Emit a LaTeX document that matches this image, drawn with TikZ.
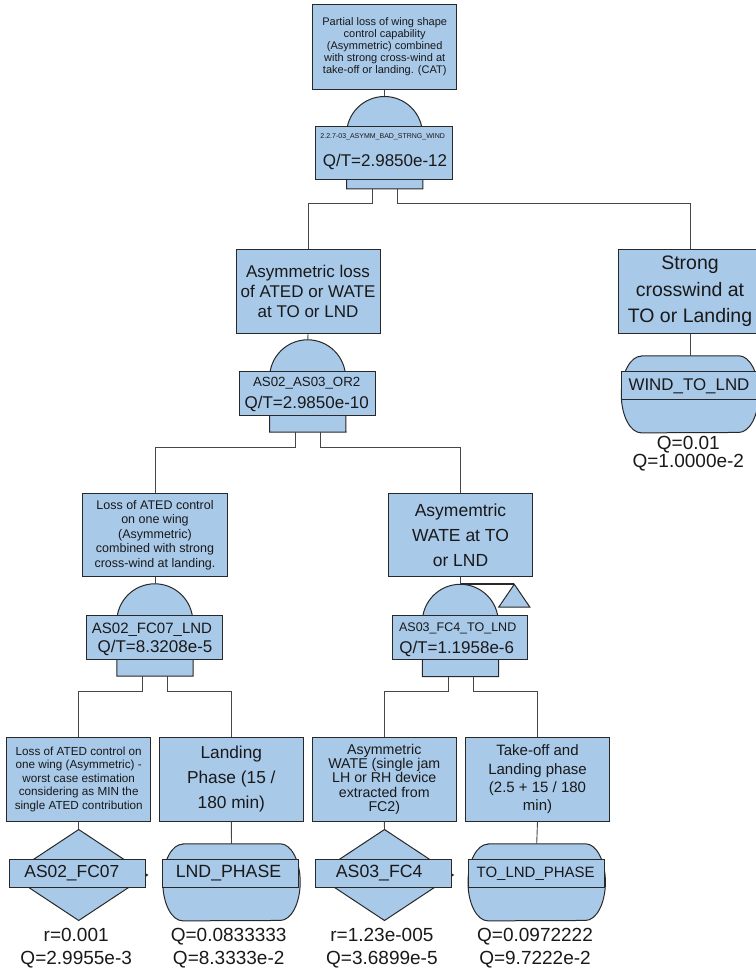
\documentclass[tikz,border=0pt]{standalone}
\usepackage{fontspec}
\setmainfont{Liberation Sans}
\usetikzlibrary{shapes.geometric}

\definecolor{fbox}{RGB}{169,201,233}
\definecolor{edge}{RGB}{40,40,40}
\definecolor{wirec}{RGB}{70,70,70}
\definecolor{ink}{RGB}{25,25,25}

\newcommand\ftfont[2]{\fontsize{#1}{#2}\selectfont}

% gate body: round dome over a rectangular base
\newcommand\ftgate[1]{%
  \draw[shapefill] (#1.south west) -- ([yshift=-38pt]#1.north west)
    arc[start angle=180, end angle=0, radius=38pt] -- (#1.south east) -- cycle;}
% house-like event body with elliptic ends
\newcommand\ftround[1]{%
  \draw[shapefill] ([xshift=20pt]#1.north west) -- ([xshift=-20pt]#1.north east)
    arc[start angle=90, end angle=-90, x radius=20pt, y radius=38.35pt]
    -- ([xshift=20pt]#1.south west)
    arc[start angle=270, end angle=90, x radius=20pt, y radius=38.35pt] -- cycle;}

\begin{document}
\begin{tikzpicture}[x=1pt,y=-1pt,
  shapefill/.style={draw=edge, fill=fbox, line width=1pt},
  evbox/.style={shapefill, minimum width=144pt, minimum height=84pt,
    inner sep=0pt, align=center, text=ink},
  idbox/.style={shapefill, minimum width=136pt, minimum height=28.4pt,
    inner sep=0pt, text=ink},
  gatelbl/.style={shapefill, minimum width=136pt, minimum height=43.6pt, inner sep=0pt},
  gatebody/.style={minimum width=76pt, minimum height=92pt, inner sep=0pt},
  roundbody/.style={minimum width=137pt, minimum height=76.7pt, inner sep=0pt},
  diam/.style={shapefill, diamond, minimum width=138pt, minimum height=91.4pt, inner sep=0pt},
  txt/.style={inner sep=0pt, text=ink, align=center},
  wire/.style={draw=wirec, line width=0.9pt},
]
\useasboundingbox (0,0) rectangle (755,971);

% ---------- top event ----------
\node[evbox, minimum height=84.3pt, font=\ftfont{11}{12}] (t1) at (384.7,47)
  {Partial loss of wing shape\\control capability\\(Asymmetric) combined\\with strong cross-wind at\\take-off or landing. (CAT)};

\node[gatebody] (g1) at (384.7,142.7) {};
\ftgate{g1}
\node[gatelbl, minimum width=136.7pt, minimum height=53.3pt] (g1l) at (384,153.3) {};
\node[txt, font=\ftfont{7}{8}] (g1id) at (382.7,136.7) {2.2.7-03\_ASYMM\_BAD\_STRNG\_WIND};
\node[txt, font=\ftfont{17}{20}] (g1q) at (385,161.7) {Q/T=2.9850e-12};

% ---------- second level ----------
\node[evbox, font=\ftfont{17}{20}] (a1) at (308,291.3)
  {Asymmetric loss\\of ATED or WATE\\at TO or LND};
\node[evbox, minimum width=143.4pt, font=\ftfont{19.5}{26.7}] (a2) at (690,291.3)
  {Strong\\crosswind at\\TO or Landing};

\node[gatebody] (g2) at (307.8,386) {};
\ftgate{g2}
\node[gatelbl, minimum height=44pt] (g2l) at (307,393) {};
\node[txt, font=\ftfont{13.3}{15}] (g2id) at (306.7,383.3) {AS02\_AS03\_OR2};
\node[txt, font=\ftfont{17}{20}] (g2q) at (306.7,404) {Q/T=2.9850e-10};

\node[roundbody] (w) at (690,394.3) {};
\ftround{w}
\node[idbox, minimum width=137pt, minimum height=28.3pt, font=\ftfont{16.9}{20}] (wl) at (690,385.8)
  {WIND\_TO\_LND\kern2pt};
\node[txt, font=\ftfont{19}{18}] (wq) at (688.3,454) {Q=0.01\\Q=1.0000e-2};

% ---------- third level ----------
\node[evbox, minimum width=144.6pt, minimum height=83.4pt, font=\ftfont{12.5}{14.4}] (b1) at (155,535)
  {Loss of ATED control\\on one wing\\(Asymmetric)\\combined with strong\\cross-wind at landing.};
\node[evbox, minimum width=144.4pt, minimum height=83.4pt, font=\ftfont{17.5}{25}] (b2) at (460.5,535)
  {Asymemtric\\WATE at TO\\or LND};

\node[gatebody] (g3) at (155,630) {};
\ftgate{g3}
\node[gatelbl, minimum width=136.3pt] (g3l) at (154.2,637.5) {};
\node[txt, font=\ftfont{15}{17}] (g3id) at (152,630) {AS02\_FC07\_LND};
\node[txt, font=\ftfont{17}{20}] (g3q) at (155,648.3) {Q/T=8.3208e-5};

\node[gatebody] (g4) at (460.5,630.5) {};
\ftgate{g4}
\node[gatelbl, minimum width=135.4pt] (g4l) at (460,637.5) {};
\node[txt, font=\ftfont{12.5}{15}] (g4id) at (457.7,628.3) {AS03\_FC4\_TO\_LND};
\node[txt, font=\ftfont{17}{20}] (g4q) at (456.7,649.3) {Q/T=1.1958e-6};

% transfer symbol on the right of the gate
\coordinate (tr) at ([xshift=53.8pt]g4.north);
\draw[draw=edge, line width=1.8pt] (g4.north) -- (tr);
\draw[shapefill] (tr) -- ++(15.5,22.7) -- ++(-31,0) -- cycle;

% ---------- bottom level ----------
\node[evbox, minimum height=83.5pt, font=\ftfont{11.7}{13.5}] (c1) at (78.7,779.3)
  {Loss of ATED control on\\one wing (Asymmetric) -\\worst case estimation\\considering as MIN the\\single ATED contribution};
\node[evbox, minimum height=83.5pt, font=\ftfont{17.3}{25}] (c2) at (231.3,779.3)
  {Landing\\Phase (15 /\\180 min)};
\node[evbox, minimum height=83.5pt, font=\ftfont{14.2}{14.3}] (c3) at (384.3,779.3)
  {Asymmetric\\WATE (single jam\\LH or RH device\\extracted from\\FC2)};
\node[evbox, minimum height=83.5pt, font=\ftfont{15}{18.3}] (c4) at (537.5,779.3)
  {Take-off and\\Landing phase\\(2.5 + 15 / 180\\min)};

\node[diam] (d1) at (78.7,875) {};
\node[idbox, minimum width=135.7pt, font=\ftfont{17.4}{20}] (d1l) at (77.8,873.5) {AS02\_FC07\kern12pt};
\node[roundbody] (e2) at (231.5,882.3) {};
\ftround{e2}
\node[idbox, minimum width=135.6pt, font=\ftfont{17.7}{20}] (e2l) at (230.5,873.5) {LND\_PHASE\kern4pt};
\node[diam] (d3) at (384.5,875) {};
\node[idbox, font=\ftfont{17.7}{20}] (d3l) at (383.7,873.5) {AS03\_FC4\kern9pt};
\node[roundbody] (e4) at (536.7,882.3) {};
\ftround{e4}
\node[idbox, minimum width=135.7pt, font=\ftfont{15}{18}] (e4l) at (536.2,873.5) {TO\_LND\_PHASE\kern1pt};

\node[txt, font=\ftfont{19}{22.8}] (d1q) at (76.2,947.8) {r=0.001\\Q=2.9955e-3};
\node[txt, font=\ftfont{19}{22.8}] (e2q) at (228.7,947.8) {Q=0.0833333\\Q=8.3333e-2};
\node[txt, font=\ftfont{19}{22.8}] (d3q) at (381.9,947.8) {r=1.23e-005\\Q=3.6899e-5};
\node[txt, font=\ftfont{19}{22.8}] (e4q) at (535,947.8) {Q=0.0972222\\Q=9.7222e-2};

% ---------- connectors ----------
\draw[wire] (t1.south) -- (g1.north);
\draw[wire] ([xshift=-12.5pt]g1.south) -- ++(0,15) -| (a1.north);
\draw[wire] ([xshift=12.5pt]g1.south) -- ++(0,15) -| (a2.north);
\draw[wire] (a1.south) -- (g2.north);
\draw[wire] (a2.south) -- (w.north);
\draw[wire] ([xshift=-12.5pt]g2.south) -- ++(0,15.5) -| (b1.north);
\draw[wire] ([xshift=12.5pt]g2.south) -- ++(0,15.5) -| (b2.north);
\draw[wire] (b1.south) -- (g3.north);
\draw[wire] (b2.south) -- (g4.north);
\draw[wire] ([xshift=-12.5pt]g3.south) -- ++(0,15.5) -| (c1.north);
\draw[wire] ([xshift=12.5pt]g3.south) -- ++(0,15.5) -| (c2.north);
\draw[wire] ([xshift=-12.5pt]g4.south) -- ++(0,15.2) -| (c3.north);
\draw[wire] ([xshift=12.5pt]g4.south) -- ++(0,15.2) -| (c4.north);
\draw[wire] (c1.south) -- (d1.north);
\draw[wire] (c2.south) -- (e2.north);
\draw[wire] (c3.south) -- (d3.north);
\draw[wire] (c4.south) -- (e4.north);
\end{tikzpicture}
\end{document}
